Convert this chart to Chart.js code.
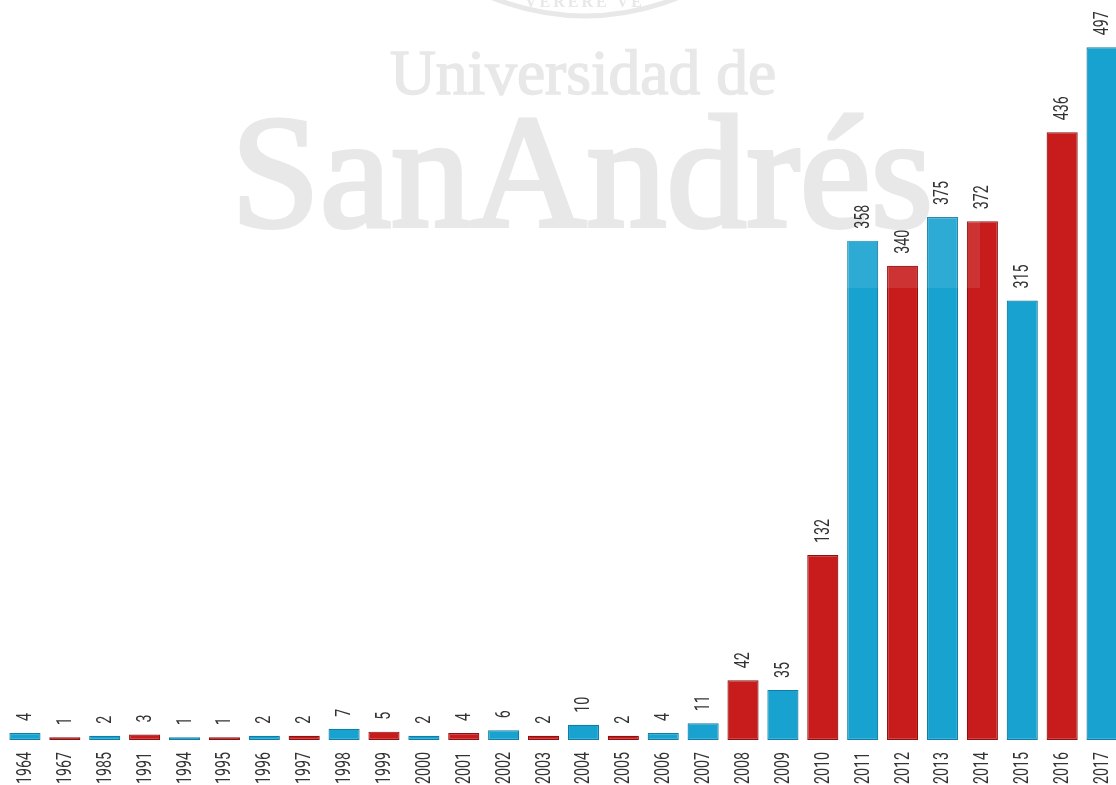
<!DOCTYPE html>
<html>
<head>
<meta charset="utf-8">
<script src="https://cdn.jsdelivr.net/npm/chart.js@4"></script>
<style>
  html, body { margin: 0; padding: 0; background: #fff; overflow: hidden; }
  #wrap { position: absolute; left: 0; top: 0; width: 1122px; height: 785px; }
</style>
</head>
<body>
<div id="wrap"><canvas id="chart" width="1122" height="785"></canvas></div>
<script>
const years = ['1964','1967','1985','1991','1994','1995','1996','1997','1998','1999','2000','2001','2002','2003','2004','2005','2006','2007','2008','2009','2010','2011','2012','2013','2014','2015','2016','2017'];
const counts = [4,1,2,3,1,1,2,2,7,5,2,4,6,2,10,2,4,11,42,35,132,358,340,375,372,315,436,497];
const barTeams = ['b','r','b','r','b','r','b','r','b','r','b','r','b','r','b','r','b','b','r','b','r','b','r','b','r','b','r','b'];

// no condensed font installed, so squeeze Roboto along the text direction
function turnedText(ctx, text, x, y) {
  ctx.save();
  ctx.translate(x + 1, y);
  ctx.rotate(-Math.PI / 2);
  ctx.scale(0.71, 1);
  ctx.font = '20px Roboto, sans-serif';
  ctx.fillStyle = '#333';
  ctx.textBaseline = 'middle';
  ctx.fillText(text, 0, 0);
  ctx.restore();
}

const barText = {
  id: 'barText',
  afterDraw(chart) {
    const ctx = chart.ctx;
    const bars = chart.getDatasetMeta(0).data;
    const xScale = chart.scales.x;
    ctx.save();
    ctx.textAlign = 'left';
    bars.forEach((bar, i) => turnedText(ctx, String(counts[i]), bar.x, bar.y - 12));
    ctx.textAlign = 'right';
    years.forEach((year, i) => turnedText(ctx, year, xScale.getPixelForValue(i), 752));
    ctx.restore();
  }
};

// university watermark, sits on top of the bars but under the numbers
const watermark = {
  id: 'watermark',
  afterDatasetsDraw(chart) {
    const ctx = chart.ctx;
    ctx.save();
    ctx.fillStyle = 'rgba(255,255,255,0.1)';
    ctx.fillRect(235, 0, 745, 288);
    ctx.strokeStyle = '#e8e8e8';
    ctx.fillStyle = '#e8e8e8';
    ctx.lineWidth = 5;
    ctx.beginPath();
    ctx.arc(585, -228, 244, 0.3 * Math.PI, 0.7 * Math.PI);
    ctx.stroke();
    ctx.textAlign = 'center';
    ctx.textBaseline = 'alphabetic';
    ctx.font = 'bold 16px "Liberation Serif", serif';
    ctx.letterSpacing = '3px';
    ctx.fillText('VERERE VE', 585, 7);
    ctx.letterSpacing = '0px';
    ctx.lineWidth = 1.5;
    ctx.font = '63.5px "Liberation Serif", serif';
    ctx.fillText('Universidad de', 583, 94);
    ctx.strokeText('Universidad de', 583, 94);
    ctx.lineWidth = 4;
    ctx.font = '160px "Liberation Serif", serif';
    ctx.fillText('SanAndrés', 582, 226);
    ctx.strokeText('SanAndrés', 582, 226);
    ctx.restore();
  }
};

new Chart(document.getElementById('chart'), {
  type: 'bar',
  data: {
    labels: years,
    datasets: [{
      data: counts,
      base: -1,
      backgroundColor: barTeams.map(t => t === 'b' ? '#17a2d0' : '#c81c1c'),
      borderColor: barTeams.map(t => t === 'b' ? '#0f7ea6' : '#8f1010'),
      borderWidth: 1.2,
      borderSkipped: false,
      categoryPercentage: 1,
      barPercentage: 0.78
    }]
  },
  options: {
    responsive: false,
    animation: false,
    layout: { padding: { left: 5, right: 0, top: 0, bottom: 0 } },
    plugins: { legend: { display: false }, tooltip: { enabled: false } },
    scales: {
      x: {
        grid: { display: false },
        border: { display: false },
        afterFit(scale) { scale.height = 45; },
        ticks: { display: false }
      },
      y: {
        display: false,
        min: -1,
        max: 531
      }
    }
  },
  plugins: [watermark, barText]
});
</script>
</body>
</html>
